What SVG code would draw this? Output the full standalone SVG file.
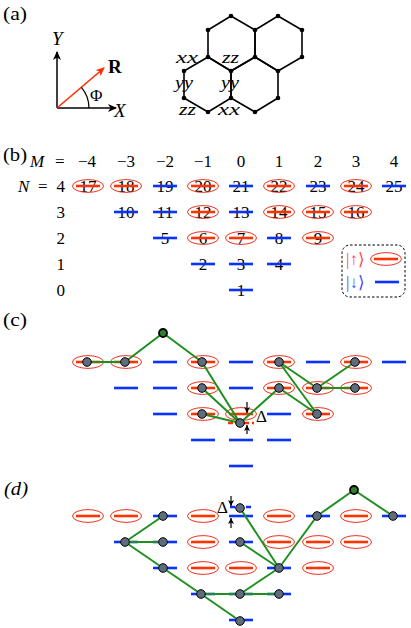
<svg xmlns="http://www.w3.org/2000/svg" width="411" height="628" viewBox="0 0 411 628">
<style>
text{font-family:'Liberation Serif','Times New Roman','DejaVu Serif',serif;fill:#000}
.t{font-size:17px}
.lab{font-size:19px}
.it{font-style:italic}
.num{font-size:17px;text-anchor:middle}
.hx{fill:none;stroke:#000;stroke-width:1.6}
.vx{fill:#000}
.e{fill:none;stroke:#1f8f1f;stroke-width:2}
.dot{fill:#5d6d7e;stroke:#000;stroke-width:1}
.open{fill:#2f7f2f;stroke:#000;stroke-width:1.8}
.ax{stroke:#000;stroke-width:1.5;fill:none}
.sm{stroke:#000;stroke-width:1.2;fill:none}
</style>
<defs>
<marker id="ah" markerWidth="10" markerHeight="8" refX="8" refY="4" orient="auto" markerUnits="userSpaceOnUse"><path d="M0,0 L9,4 L0,8 L2.5,4 Z" fill="#000"/></marker>
<marker id="ahr" markerWidth="10" markerHeight="8" refX="8" refY="4" orient="auto" markerUnits="userSpaceOnUse"><path d="M0,0 L9,4 L0,8 L2.5,4 Z" fill="#ff2a00"/></marker>
<marker id="as" markerWidth="7" markerHeight="6" refX="6" refY="3" orient="auto" markerUnits="userSpaceOnUse"><path d="M0,0 L6,3 L0,6 L1.5,3 Z" fill="#000"/></marker>
<g id="U"><ellipse rx="15.5" ry="6.4" fill="none" stroke="#f0321e" stroke-width="1"/><line x1="-12" y1="0" x2="12" y2="0" stroke="#ff3300" stroke-width="2.6"/></g>
<g id="D"><line x1="-12" y1="0" x2="12" y2="0" stroke="#0a32ff" stroke-width="2.6"/></g>
</defs>

<!-- (a) -->
<g id="panel-a">
<text class="lab" x="3" y="20" textLength="24" lengthAdjust="spacingAndGlyphs">(a)</text>
<line class="ax" x1="57" y1="108" x2="57" y2="52" marker-end="url(#ah)"/>
<line class="ax" x1="57" y1="108" x2="116" y2="108" marker-end="url(#ah)"/>
<line x1="57" y1="108" x2="104" y2="68" stroke="#ff2a00" stroke-width="1.6" marker-end="url(#ahr)"/>
<path class="sm" d="M89,108 A32,32 0 0 0 81.4,87.3"/>
<text class="lab it" x="52" y="45">Y</text>
<text class="lab it" x="114" y="117">X</text>
<text class="lab" x="108" y="73" font-weight="bold">R</text>
<text class="t" x="90" y="101">Φ</text>
</g>

<g id="honeycomb">
<path class="hx" d="M231,16 L255,30 L255,57 L231,71 L208,57 L208,30 Z"/>
<path class="hx" d="M278,16 L302,30 L302,57 L278,71 L255,57 L255,30 Z"/>
<path class="hx" d="M208,57 L231,71 L231,98 L208,112 L184,98 L184,71 Z"/>
<path class="hx" d="M255,57 L278,71 L278,98 L255,112 L231,98 L231,71 Z"/>
<g class="vx">
<circle cx="231" cy="16" r="2.3"/><circle cx="278" cy="16" r="2.3"/>
<circle cx="208" cy="30" r="2.3"/><circle cx="255" cy="30" r="2.3"/><circle cx="302" cy="30" r="2.3"/>
<circle cx="208" cy="57" r="2.3"/><circle cx="255" cy="57" r="2.3"/><circle cx="302" cy="57" r="2.3"/>
<circle cx="184" cy="71" r="2.3"/><circle cx="231" cy="71" r="2.3"/><circle cx="278" cy="71" r="2.3"/>
<circle cx="184" cy="98" r="2.3"/><circle cx="231" cy="98" r="2.3"/><circle cx="278" cy="98" r="2.3"/>
<circle cx="208" cy="112" r="2.3"/><circle cx="255" cy="112" r="2.3"/>
</g>
<text class="t it" x="176" y="63" textLength="22" lengthAdjust="spacingAndGlyphs">xx</text>
<text class="t it" x="222" y="63" textLength="17" lengthAdjust="spacingAndGlyphs">zz</text>
<text class="t it" x="175" y="88" textLength="18" lengthAdjust="spacingAndGlyphs">yy</text>
<text class="t it" x="221" y="88" textLength="18" lengthAdjust="spacingAndGlyphs">yy</text>
<text class="t it" x="179" y="115" textLength="17" lengthAdjust="spacingAndGlyphs">zz</text>
<text class="t it" x="218" y="115" textLength="22" lengthAdjust="spacingAndGlyphs">xx</text>
</g>

<!-- (b) -->
<g id="panel-b">
<text class="lab" x="3" y="161" textLength="24" lengthAdjust="spacingAndGlyphs">(b)</text>
<text class="t it" x="30" y="167">M</text>
<text class="t" x="55" y="167">=</text>
<g class="num">
<text x="87" y="167">−4</text><text x="126" y="167">−3</text><text x="165" y="167">−2</text><text x="203" y="167">−1</text>
<text x="241" y="167">0</text><text x="279" y="167">1</text><text x="318" y="167">2</text><text x="356" y="167">3</text><text x="394" y="167">4</text>
</g>
<text class="t it" x="18" y="192">N</text>
<text class="t" x="38" y="192">=</text>
<text class="t" x="65" y="192" text-anchor="end">4</text>
<text class="t" x="65" y="218" text-anchor="end">3</text>
<text class="t" x="65" y="244" text-anchor="end">2</text>
<text class="t" x="65" y="270" text-anchor="end">1</text>
<text class="t" x="65" y="296" text-anchor="end">0</text>
<g class="num">
<text x="88" y="192">17</text><text x="126" y="192">18</text><text x="165" y="192">19</text><text x="203" y="192">20</text><text x="241" y="192">21</text><text x="279" y="192">22</text><text x="318" y="192">23</text><text x="356" y="192">24</text><text x="394" y="192">25</text>
<text x="126" y="218">10</text><text x="165" y="218">11</text><text x="203" y="218">12</text><text x="241" y="218">13</text><text x="279" y="218">14</text><text x="318" y="218">15</text><text x="356" y="218">16</text>
<text x="165" y="244">5</text><text x="203" y="244">6</text><text x="241" y="244">7</text><text x="279" y="244">8</text><text x="318" y="244">9</text>
<text x="203" y="270">2</text><text x="241" y="270">3</text><text x="279" y="270">4</text>
<text x="241" y="296">1</text>
</g>
<use href="#U" x="88" y="186"/><use href="#U" x="126" y="186"/><use href="#D" x="165" y="186"/><use href="#U" x="203" y="186"/><use href="#D" x="241" y="186"/><use href="#U" x="279" y="186"/><use href="#D" x="318" y="186"/><use href="#U" x="356" y="186"/><use href="#D" x="394" y="186"/>
<use href="#D" x="126" y="212"/><use href="#D" x="165" y="212"/><use href="#U" x="203" y="212"/><use href="#D" x="241" y="212"/><use href="#U" x="279" y="212"/><use href="#U" x="318" y="212"/><use href="#U" x="356" y="212"/>
<use href="#D" x="165" y="238"/><use href="#U" x="203" y="238"/><use href="#U" x="241" y="238"/><use href="#D" x="279" y="238"/><use href="#U" x="318" y="238"/>
<use href="#D" x="203" y="264"/><use href="#D" x="241" y="264"/><use href="#D" x="279" y="264"/>
<use href="#D" x="241" y="290"/>
</g>

<g id="legend">
<rect x="342" y="245" width="63" height="52" rx="8" fill="none" stroke="#000" stroke-width="1" stroke-dasharray="2.5,2"/>
<text class="t" x="346" y="265" style="fill:#ff4a4a">|↑⟩</text>
<text class="t" x="346" y="288" style="fill:#4a4aff">|↓⟩</text>
<use href="#U" x="386" y="259"/>
<use href="#D" x="387" y="282"/>
</g>

<!-- (c) -->
<g id="panel-c">
<text class="lab" x="3" y="326" textLength="24" lengthAdjust="spacingAndGlyphs">(c)</text>
<use href="#U" x="88" y="362"/><use href="#U" x="126" y="362"/><use href="#D" x="165" y="362"/><use href="#U" x="203" y="362"/><use href="#D" x="241" y="362"/><use href="#U" x="279" y="362"/><use href="#D" x="318" y="362"/><use href="#U" x="356" y="362"/><use href="#D" x="394" y="362"/>
<use href="#D" x="126" y="388"/><use href="#D" x="165" y="388"/><use href="#U" x="203" y="388"/><use href="#D" x="241" y="388"/><use href="#U" x="279" y="388"/><use href="#U" x="318" y="388"/><use href="#U" x="356" y="388"/>
<use href="#D" x="165" y="414"/><use href="#U" x="203" y="414"/><use href="#U" x="241" y="414"/><use href="#D" x="279" y="414"/><use href="#U" x="318" y="414"/>
<use href="#D" x="203" y="440"/><use href="#D" x="241" y="440"/><use href="#D" x="279" y="440"/>
<use href="#D" x="241" y="466"/>
<line x1="228" y1="423" x2="254" y2="423" stroke="#ff3300" stroke-width="2.4" stroke-dasharray="5,3"/>
<line class="sm" x1="247" y1="402" x2="247" y2="413" marker-end="url(#as)"/>
<line class="sm" x1="247" y1="434" x2="247" y2="425" marker-end="url(#as)"/>
<text class="t" x="256" y="422">Δ</text>
</g>

<!-- (d) -->
<g id="panel-d">
<text class="lab it" x="4" y="495" textLength="24" lengthAdjust="spacingAndGlyphs">(d)</text>
<use href="#U" x="88" y="516"/><use href="#U" x="126" y="516"/><use href="#D" x="165" y="516"/><use href="#U" x="203" y="516"/><use href="#D" x="241" y="516"/><use href="#U" x="279" y="516"/><use href="#D" x="318" y="516"/><use href="#U" x="356" y="516"/><use href="#D" x="394" y="516"/>
<use href="#D" x="126" y="542"/><use href="#D" x="165" y="542"/><use href="#U" x="203" y="542"/><use href="#D" x="241" y="542"/><use href="#U" x="279" y="542"/><use href="#U" x="318" y="542"/><use href="#U" x="356" y="542"/>
<use href="#D" x="165" y="568"/><use href="#U" x="203" y="568"/><use href="#U" x="241" y="568"/><use href="#D" x="279" y="568"/><use href="#U" x="318" y="568"/>
<use href="#D" x="203" y="594"/><use href="#D" x="241" y="594"/><use href="#D" x="279" y="594"/>
<use href="#D" x="241" y="620"/>
<line x1="230" y1="507" x2="254" y2="507" stroke="#0a32ff" stroke-width="2.4" stroke-dasharray="5,3"/>
<line class="sm" x1="231" y1="496" x2="231" y2="506" marker-end="url(#as)"/>
<line class="sm" x1="231" y1="528" x2="231" y2="518" marker-end="url(#as)"/>
<text class="t" x="217" y="513">Δ</text>
</g>

<g id="connectors">
<line class="e" x1="87" y1="362" x2="125" y2="362"/>
<line class="e" x1="125" y1="362" x2="163" y2="333"/>
<line class="e" x1="163" y1="333" x2="202" y2="362"/>
<line class="e" x1="202" y1="362" x2="240" y2="423"/>
<line class="e" x1="202" y1="388" x2="240" y2="423"/>
<line class="e" x1="202" y1="414" x2="240" y2="423"/>
<line class="e" x1="240" y1="423" x2="279" y2="388"/>
<line class="e" x1="279" y1="362" x2="317" y2="388"/>
<line class="e" x1="279" y1="362" x2="317" y2="414"/>
<line class="e" x1="279" y1="388" x2="317" y2="414"/>
<line class="e" x1="317" y1="388" x2="355" y2="362"/>
<line class="e" x1="317" y1="388" x2="355" y2="388"/>

<line class="e" x1="125" y1="542" x2="163" y2="516"/>
<line class="e" x1="125" y1="542" x2="163" y2="542"/>
<line class="e" x1="125" y1="542" x2="163" y2="568"/>
<line class="e" x1="163" y1="568" x2="201" y2="594"/>
<line class="e" x1="201" y1="594" x2="240" y2="594"/>
<line class="e" x1="201" y1="594" x2="240" y2="621"/>
<line class="e" x1="240" y1="594" x2="279" y2="594"/>
<line class="e" x1="240" y1="594" x2="279" y2="568"/>
<line class="e" x1="240" y1="508" x2="279" y2="568"/>
<line class="e" x1="240" y1="542" x2="279" y2="568"/>
<line class="e" x1="279" y1="568" x2="317" y2="516"/>
<line class="e" x1="317" y1="516" x2="354" y2="490"/>
<line class="e" x1="354" y1="490" x2="393" y2="516"/>
</g>

<g id="nodes-c">
<circle id="c1" class="dot" cx="87" cy="362" r="4.3"/>
<circle id="c2" class="dot" cx="125" cy="362" r="4.3"/>
<circle id="c0" class="open" cx="163" cy="333" r="4"/>
<circle id="c3" class="dot" cx="202" cy="362" r="4.3"/>
<circle id="c4" class="dot" cx="202" cy="388" r="4.3"/>
<circle id="c5" class="dot" cx="202" cy="414" r="4.3"/>
<circle id="c6" class="dot" cx="240" cy="423" r="4.3"/>
<circle id="c7" class="dot" cx="279" cy="362" r="4.3"/>
<circle id="c8" class="dot" cx="279" cy="388" r="4.3"/>
<circle id="c9" class="dot" cx="317" cy="388" r="4.3"/>
<circle id="c10" class="dot" cx="317" cy="414" r="4.3"/>
<circle id="c11" class="dot" cx="355" cy="362" r="4.3"/>
<circle id="c12" class="dot" cx="355" cy="388" r="4.3"/>
</g>
<g id="nodes-d">
<circle id="d1" class="dot" cx="125" cy="542" r="4.3"/>
<circle id="d2" class="dot" cx="163" cy="516" r="4.3"/>
<circle id="d3" class="dot" cx="163" cy="542" r="4.3"/>
<circle id="d4" class="dot" cx="163" cy="568" r="4.3"/>
<circle id="d5" class="dot" cx="201" cy="594" r="4.3"/>
<circle id="d6" class="dot" cx="240" cy="594" r="4.3"/>
<circle id="d7" class="dot" cx="240" cy="621" r="4.3"/>
<circle id="d8" class="dot" cx="279" cy="594" r="4.3"/>
<circle id="d9" class="dot" cx="279" cy="568" r="4.3"/>
<circle id="d10" class="dot" cx="240" cy="508" r="4.3"/>
<circle id="d11" class="dot" cx="240" cy="542" r="4.3"/>
<circle id="d12" class="dot" cx="317" cy="516" r="4.3"/>
<circle id="d0" class="open" cx="354" cy="490" r="4"/>
<circle id="d13" class="dot" cx="393" cy="516" r="4.3"/>
</g>
</svg>
